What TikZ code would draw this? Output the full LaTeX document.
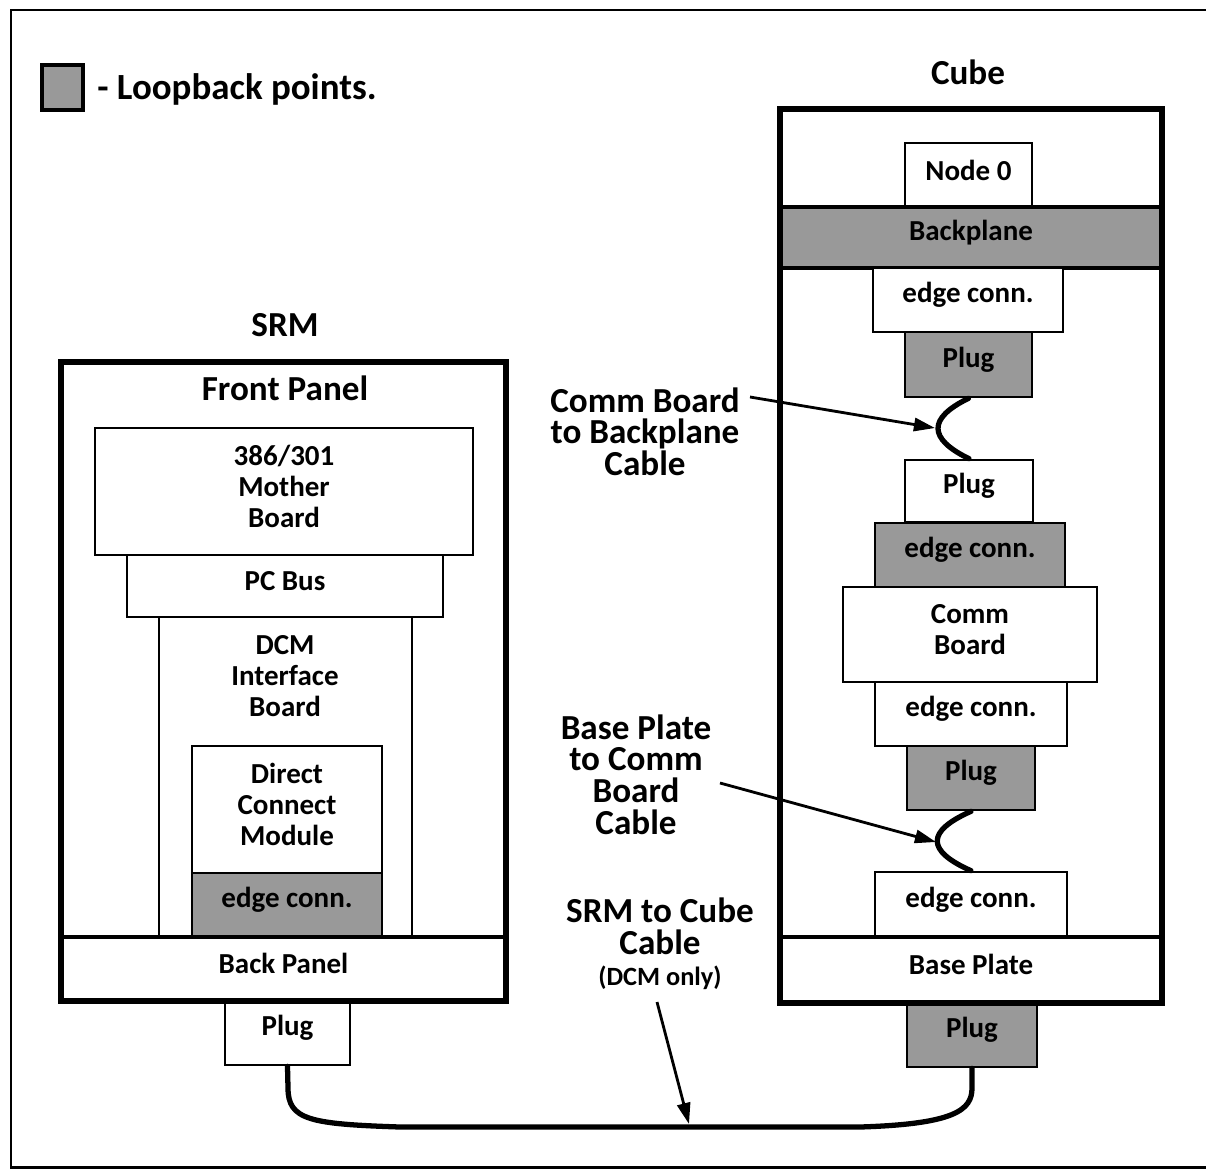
\documentclass[tikz,border=0pt]{standalone}
\usepackage{fontspec}
\setmainfont{Carlito}
\usetikzlibrary{arrows.meta,calc}
\newcommand\bx[7]{\node[#6, minimum width={(#4-#2)*0.02cm}, minimum height={(#5-#3)*0.02cm}] (#1) at ({(#2+#4)/2},{(#3+#5)/2}) {};
  \node[boxtext] (#1t) at ([yshift=0.1cm]#1.center) {#7};}
\tikzset{
  outerbox/.style={draw, line width=2.5pt, inner sep=0pt},
  band/.style={draw, line width=2pt, inner sep=0pt},
  part/.style={draw, line width=1.5pt, fill=white, inner sep=0pt},
  loopbox/.style={part, fill=black!40},
  boxtext/.style={inner sep=0pt, align=center, font=\fontsize{16.5}{17.6}\selectfont\bfseries},
  biglabel/.style={align=center, font=\fontsize{20}{18.2}\selectfont\bfseries, inner sep=0pt},
  cable/.style={line width=3pt, line cap=round},
  pointer/.style={line width=1.6pt, -{Triangle[length=12pt,width=7.5pt]}},
}
\begin{document}
\begin{tikzpicture}[x=0.02cm, y=-0.02cm]
\useasboundingbox (0,0) rectangle (1206,1170);
% frame
\draw[line width=1.7pt] (1210,10) -- (11,10) -- (11,1167) -- (1210,1167);

% legend
\bx{legsq}{42}{65}{83}{110}{loopbox, line width=2.5pt}{}
\node[biglabel, font=\fontsize{21}{22}\selectfont\bfseries, anchor=base west] (legtxt) at (97,99) {- Loopback points.};

% ---------------- SRM ----------------
\node[biglabel] (srmtitle) at (285,325) {SRM};
\bx{srm}{62}{363}{505}{1000}{outerbox, fill=white}{}
\node[biglabel] (front) at (285,388) {Front Panel};
\bx{dcmib}{159}{617}{412}{937}{part}{}
\node[boxtext] (dcmlab) at (285,676) {DCM\\Interface\\Board};
\bx{mb}{95}{428}{473}{555}{part}{386/301\\Mother\\Board}
\bx{pcbus}{127}{555}{443}{617}{part}{PC Bus}
\bx{dcm}{192}{746}{382}{873}{part}{Direct\\Connect\\Module}
\bx{dcmec}{192}{873}{382}{937}{loopbox}{edge conn.}
\bx{backp}{62}{937}{505}{1000}{band}{Back Panel}
\bx{sp}{225}{1000}{350}{1065}{part}{Plug}
\draw[line width=2.5pt] (srm.north west) rectangle (srm.south east);

% ---------------- Cube ----------------
\node[biglabel] (cubetitle) at (968,72) {Cube};
\bx{cube}{781}{110}{1161}{1002}{outerbox, fill=white}{}
\bx{node0}{905}{143}{1032}{207}{part}{Node 0}
\bx{backpl}{781}{207}{1161}{268}{band, fill=black!40}{Backplane}
\bx{ec1}{873}{268}{1063}{332}{part}{edge conn.}
\bx{pl1}{905}{332}{1032}{397}{loopbox}{Plug}
\bx{pl2}{905}{460}{1033}{522}{part}{Plug}
\bx{ec2}{875}{523}{1065}{587}{loopbox}{edge conn.}
\bx{comm}{843}{587}{1097}{682}{part}{Comm\\Board}
\bx{ec3}{875}{682}{1067}{746}{part}{edge conn.}
\bx{pl3}{907}{746}{1035}{810}{loopbox}{Plug}
\bx{ec4}{875}{872}{1067}{937}{part}{edge conn.}
\bx{basepl}{781}{937}{1161}{1002}{band}{Base Plate}
\bx{cp}{907}{1002}{1037}{1067}{loopbox}{Plug}
\draw[line width=2.5pt] (cube.north west) rectangle (cube.south east);

% cables
\draw[cable] (pl1.south) .. controls +(-41,20) and +(-41,-20) .. (pl2.north);
\draw[cable] (pl3.south) .. controls +(-45,20) and +(-45,-20) .. (ec4.north);
\draw[cable] (sp.south) -- (288,1088) .. controls (288,1120) and (310,1124) .. (400,1127)
   -- (860,1127) .. controls (955,1124) and (972,1110) .. (972,1088) -- (cp.south);

% labels and pointers
\node[biglabel, anchor=north] (lab1) at (645,387) {Comm Board\\to Backplane\\Cable};
\node[biglabel, anchor=north] (lab2) at (636,714) {Base Plate\\to Comm\\Board\\Cable};
\node[biglabel, anchor=north] (lab3) at (660,897) {SRM to Cube\\Cable\\{\fontsize{15}{16}\selectfont (DCM only)}};
\coordinate (a1s) at (750,397); \coordinate (a1e) at (935,428);
\coordinate (a2s) at (720,783); \coordinate (a2e) at (936,842);
\coordinate (a3s) at (657,1002); \coordinate (a3e) at (689,1124);
\draw[pointer] (a1s) -- (a1e);
\draw[pointer] (a2s) -- (a2e);
\draw[pointer] (a3s) -- (a3e);
\end{tikzpicture}
\end{document}
